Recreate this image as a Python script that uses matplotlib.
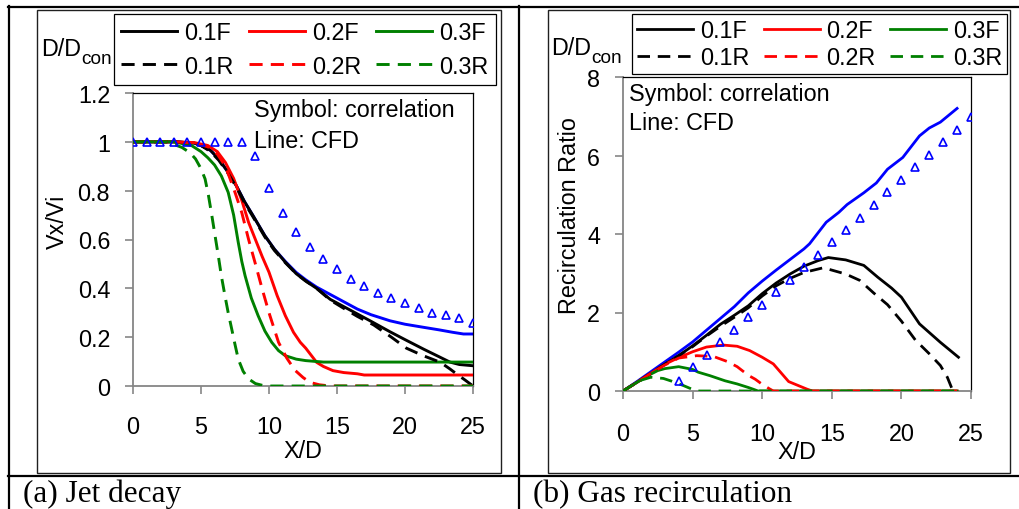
import matplotlib
matplotlib.use("Agg")
import matplotlib.pyplot as plt
from matplotlib.lines import Line2D
from matplotlib.patches import Rectangle

W, H = 1019, 510
SANS = "Liberation Sans"
SERIF = "Liberation Serif"
FS = 16.8
GREY = "#868686"
BLUE, RED, GREEN = "#0000FF", "#FF0000", "#008000"

# ---- (a) jet decay: Vx/Vi against X/D ----
a_corr_x = list(range(26))
a_corr_y = [1, 1, 1, 1, 1, 1, 1, 1, 1, 0.94, 0.81, 0.71, 0.63, 0.57, 0.52,
            0.48, 0.44, 0.41, 0.38, 0.36, 0.34, 0.32, 0.30, 0.29, 0.28, 0.26]

a_cfd_x = [0, 3, 4.5, 5.0, 5.7, 6.3, 7.0, 7.6, 8.2, 8.8, 9.7, 10.4, 11.2, 12.0, 12.7,
           13.5, 14.5, 15.5, 16.5, 17.5, 18.9, 20, 21.4, 22.5, 23.5, 24.3, 25]
a_cfd_y = [1, 1, 0.995, 0.985, 0.965, 0.93, 0.875, 0.82, 0.755, 0.70, 0.615, 0.56,
           0.51, 0.465, 0.435, 0.405, 0.375, 0.345, 0.315, 0.292, 0.267, 0.253,
           0.24, 0.23, 0.22, 0.213, 0.213]

a_01f_x = [0, 3, 4.5, 5.0, 5.7, 6.3, 7.0, 7.6, 8.2, 8.8, 9.7, 10.4, 11.2, 12.0, 12.7,
           13.5, 14.5, 15.5, 16.5, 17.5, 18.9, 20, 21.4, 22.5, 23.3, 24, 25]
a_01f_y = [1, 1, 0.995, 0.985, 0.965, 0.93, 0.875, 0.82, 0.755, 0.70, 0.615, 0.56,
           0.507, 0.46, 0.43, 0.40, 0.355, 0.325, 0.295, 0.265, 0.222, 0.19,
           0.15, 0.12, 0.098, 0.088, 0.083]

a_01r_x = [0, 3, 4.5, 5.0, 5.7, 6.3, 7.0, 7.6, 8.2, 8.8, 9.7, 10.4, 11.2, 12.0, 12.7,
           13.5, 14.5, 15.5, 16.5, 17.7, 19, 20.1, 21.3, 22.6, 23.3, 23.8, 24.4, 25]
a_01r_y = [1, 1, 0.995, 0.985, 0.96, 0.925, 0.87, 0.815, 0.75, 0.695, 0.61, 0.555,
           0.505, 0.46, 0.43, 0.40, 0.352, 0.318, 0.285, 0.25, 0.2, 0.155, 0.125,
           0.097, 0.07, 0.049, 0.025, 0.0]

a_02f_x = [0, 3, 4.5, 5.5, 6.2, 6.8, 7.4, 8.0, 8.5, 9.0, 9.5, 10.0, 10.6, 11.2, 11.8,
           12.3, 12.7, 13.5, 14.0, 14.7, 15.5, 16.5, 17.0, 25]
a_02f_y = [1, 1, 0.997, 0.985, 0.96, 0.915, 0.85, 0.76, 0.67, 0.6, 0.53, 0.466, 0.37,
           0.288, 0.22, 0.179, 0.155, 0.097, 0.08, 0.063, 0.055, 0.05, 0.045, 0.045]

a_02r_x = [0, 3, 4.5, 5.5, 6.2, 6.8, 7.5, 8.0, 8.5, 9.0, 9.5, 10.0, 10.7, 11.3, 11.9,
           12.5, 13.0, 13.7, 14.5, 25]
a_02r_y = [1, 1, 0.995, 0.98, 0.95, 0.9, 0.793, 0.71, 0.6, 0.5, 0.397, 0.3, 0.179,
           0.115, 0.065, 0.035, 0.015, 0.005, 0.0, 0.0]

a_03f_x = [0, 3, 4.3, 5.0, 5.5, 6.0, 6.5, 7.0, 7.4, 7.74, 8.0, 8.24, 8.7, 9.2, 9.7,
           10.2, 10.7, 11.2, 12.0, 12.7, 14.0, 25]
a_03f_y = [1, 1, 0.985, 0.96, 0.935, 0.905, 0.86, 0.793, 0.7, 0.588, 0.51, 0.452,
           0.36, 0.288, 0.225, 0.179, 0.145, 0.124, 0.11, 0.104, 0.098, 0.098]

a_03r_x = [0, 2.5, 3.6, 4.2, 4.6, 5.0, 5.3, 5.55, 5.8, 6.05, 6.27, 6.5, 6.76, 7.0,
           7.26, 7.5, 7.74, 8.1, 8.5, 9.0, 9.7, 25]
a_03r_y = [1, 1, 0.977, 0.955, 0.93, 0.89, 0.848, 0.78, 0.697, 0.61, 0.534, 0.45,
           0.37, 0.3, 0.233, 0.17, 0.11, 0.06, 0.029, 0.01, 0.0, 0.0]

# ---- (b) gas recirculation: recirculation ratio against X/D ----
b_corr_x = list(range(4, 26))
b_corr_y = [0.26, 0.60, 0.92, 1.24, 1.56, 1.88, 2.19, 2.51, 2.83, 3.15, 3.47,
            3.79, 4.11, 4.42, 4.75, 5.06, 5.38, 5.70, 6.02, 6.34, 6.66, 6.97]

b_cfd_x = [0, 1, 2, 3, 4, 5, 6, 7, 8, 9, 10, 11, 12, 13, 13.4, 14.6, 15.5, 16.1,
           17.3, 18.2, 19, 20.1, 21.3, 22, 22.8, 24]
b_cfd_y = [0, 0.24, 0.49, 0.74, 0.99, 1.25, 1.55, 1.85, 2.15, 2.5, 2.8, 3.08, 3.35,
           3.62, 3.75, 4.3, 4.55, 4.75, 5.05, 5.3, 5.65, 5.95, 6.5, 6.7, 6.85, 7.2]

b_01f_x = [0, 1, 2, 3, 4, 5, 6, 7, 8, 9, 10, 11, 12, 13, 14, 14.75, 16, 17.3, 18.3,
           19.3, 20, 21.3, 22.8, 24.1]
b_01f_y = [0, 0.22, 0.45, 0.68, 0.9, 1.15, 1.42, 1.7, 1.93, 2.17, 2.48, 2.75, 2.98,
           3.18, 3.32, 3.4, 3.34, 3.2, 2.9, 2.62, 2.39, 1.71, 1.24, 0.86]

b_01r_x = [0, 1, 2, 3, 4, 5, 6, 7, 8, 9, 10, 11, 12, 13, 14.4, 16, 17, 18, 19, 20,
           21, 22, 22.8, 23.3, 23.7, 24]
b_01r_y = [0, 0.22, 0.45, 0.68, 0.9, 1.13, 1.4, 1.65, 1.88, 2.12, 2.42, 2.68, 2.87,
           3.02, 3.14, 2.98, 2.82, 2.5, 2.2, 1.78, 1.3, 0.95, 0.65, 0.35, 0.0, 0.0]

b_02f_x = [0, 1, 2, 3, 4, 5, 6, 7.2, 8.2, 9.1, 10, 10.8, 11.9, 13.2, 13.6, 24]
b_02f_y = [0, 0.22, 0.45, 0.68, 0.85, 1.0, 1.12, 1.17, 1.14, 1.03, 0.86, 0.69,
           0.24, 0.05, 0, 0]

b_02r_x = [0, 1, 2, 3, 4, 5.3, 6.5, 7.5, 8.2, 9, 9.5, 10, 10.5, 10.8, 24]
b_02r_y = [0, 0.22, 0.45, 0.66, 0.84, 0.9, 0.88, 0.75, 0.62, 0.4, 0.3, 0.17, 0.06,
           0, 0]

b_03f_x = [0, 1, 2, 2.5, 3, 4, 5, 5.4, 6.25, 7.33, 8.2, 9, 9.4, 9.7, 24]
b_03f_y = [0, 0.22, 0.43, 0.52, 0.57, 0.62, 0.55, 0.48, 0.39, 0.26, 0.18, 0.09,
           0.04, 0, 0]

b_03r_x = [0, 1, 1.34, 2, 2.9, 3.5, 4.33, 5.2, 5.5, 24]
b_03r_y = [0, 0.22, 0.28, 0.35, 0.32, 0.25, 0.14, 0.01, 0, 0]

labels = ["0.1F", "0.2F", "0.3F", "0.1R", "0.2R", "0.3R"]
colors = ["black", RED, GREEN, "black", RED, GREEN]
DASH = (0, (4.5, 2.8))
styles = ["-", "-", "-", DASH, DASH, DASH]
# legend reads row by row: F series on top, R series below
legend_order = [0, 3, 1, 4, 2, 5]


def fx(px):
    return px / W


def fy(py):
    return 1 - py / H


def box(px0, py0, px1, py1):
    return [fx(px0), fy(py1), fx(px1) - fx(px0), fy(py0) - fy(py1)]


fig = plt.figure(figsize=(W / 100, H / 100), dpi=100, facecolor="white")

# table rules
for xs, ys in [([8, 1019], [7.5, 7.5]), ([8.5, 8.5], [7, 510]),
               ([519, 519], [7, 510]), ([8, 1019], [477, 477])]:
    fig.add_artist(Line2D([fx(x) for x in xs], [fy(y) for y in ys], color="black",
                          lw=1.6, transform=fig.transFigure))

# chart-area frames
for x0, x1 in [(37, 501), (548, 1010)]:
    fig.add_artist(Rectangle((fx(x0), fy(474)), fx(x1) - fx(x0), fy(11) - fy(474),
                             fill=False, edgecolor="#202020", lw=1.0,
                             transform=fig.transFigure, zorder=-2))


def style_axes(ax, ylim, yticks, ylabels, xpad):
    ax.set_xlim(0, 25)
    ax.set_ylim(*ylim)
    ax.set_xticks(range(0, 26, 5))
    ax.set_xticklabels([str(v) for v in range(0, 26, 5)])
    ax.set_yticks(yticks)
    ax.set_yticklabels(ylabels)
    for s in ("left", "bottom"):
        ax.spines[s].set_color(GREY)
        ax.spines[s].set_linewidth(1.3)
    for s in ("top", "right"):
        ax.spines[s].set_color("black")
        ax.spines[s].set_linewidth(0.9)
    ax.tick_params(axis="x", direction="out", length=6, width=1.2, color=GREY,
                   pad=xpad, labelsize=FS)
    ax.tick_params(axis="y", direction="out", length=6, width=1.2, color=GREY,
                   pad=10.5, labelsize=FS)
    for t in ax.get_xticklabels() + ax.get_yticklabels():
        t.set_family(SANS)


def draw_series(ax, series, cfd, corr, lw):
    ax.plot(*cfd, color=BLUE, lw=lw, zorder=2)
    handles = []
    for (x, y), lab, c, ls in zip(series, labels, colors, styles):
        h, = ax.plot(x, y, color=c, ls=ls, lw=lw, label=lab, zorder=3)
        handles.append(h)
    ax.plot(*corr, ls="none", marker="^", ms=5.5, mfc="none", mec=BLUE, mew=1.2,
            zorder=4)
    return [handles[i] for i in legend_order]


def add_legend(ax, handles, x0, colsp, bpad, lspace):
    leg = ax.legend(handles=handles, ncol=3, loc="upper left",
                    bbox_to_anchor=(fx(x0), fy(15)), bbox_transform=fig.transFigure,
                    borderaxespad=0, prop={"family": SANS, "size": FS},
                    handlelength=2.4, handletextpad=0.3, columnspacing=colsp,
                    borderpad=bpad, labelspacing=lspace, fancybox=False,
                    framealpha=1, edgecolor="black")
    leg.get_frame().set_linewidth(0.9)
    return leg


# ---- panel (a) ----
ax1 = fig.add_axes(box(133, 94, 473, 387))
h1 = draw_series(ax1,
                 [(a_01f_x, a_01f_y), (a_02f_x, a_02f_y), (a_03f_x, a_03f_y),
                  (a_01r_x, a_01r_y), (a_02r_x, a_02r_y), (a_03r_x, a_03r_y)],
                 (a_cfd_x, a_cfd_y), (a_corr_x, a_corr_y), 2.1)
style_axes(ax1, (0, 1.2), [0, 0.2, 0.4, 0.6, 0.8, 1.0, 1.2],
           ["0", "0.2", "0.4", "0.6", "0.8", "1", "1.2"], 15)
add_legend(ax1, h1, 114, 0.66, 0.3, 0.45)

# ---- panel (b) ----
ax2 = fig.add_axes(box(623, 78, 971, 392))
h2 = draw_series(ax2,
                 [(b_01f_x, b_01f_y), (b_02f_x, b_02f_y), (b_03f_x, b_03f_y),
                  (b_01r_x, b_01r_y), (b_02r_x, b_02r_y), (b_03r_x, b_03r_y)],
                 (b_cfd_x, b_cfd_y), (b_corr_x, b_corr_y), 2.0)
style_axes(ax2, (0, 8), [0, 2, 4, 6, 8], ["0", "2", "4", "6", "8"], 16)
add_legend(ax2, h2, 632, 0.62, 0.2, 0.2)

# axis titles and notes
txt = dict(family=SANS, size=FS)
fig.text(fx(57), fy(222), "Vx/Vi", rotation=90, ha="center", va="center", **txt)
fig.text(fx(569), fy(216), "Recirculation Ratio", rotation=90, ha="center",
         va="center", **txt)
fig.text(fx(303), fy(452), "X/D", ha="center", va="center", **txt)
fig.text(fx(797), fy(453), "X/D", ha="center", va="center", **txt)

fig.text(fx(254), fy(110), "Symbol: correlation", ha="left", va="center", **txt)
fig.text(fx(254), fy(142), "Line: CFD", ha="left", va="center", **txt)
fig.text(fx(629), fy(95), "Symbol: correlation", ha="left", va="center", **txt)
fig.text(fx(629), fy(123), "Line: CFD", ha="left", va="center", **txt)

for x0, base in [(41, 56), (551, 55)]:
    fig.text(fx(x0), fy(base), "D/D", ha="left", va="baseline", zorder=-1, **txt)
    fig.text(fx(x0 + 40), fy(base + 8), "con", ha="left", va="baseline", zorder=-1,
             family=SANS, size=13.7)

fig.text(fx(23), fy(502), "(a) Jet decay", ha="left", va="baseline",
         family=SERIF, size=22.5)
fig.text(fx(533), fy(502), "(b) Gas recirculation", ha="left", va="baseline",
         family=SERIF, size=22.5)

fig.savefig("out.png", dpi=100, facecolor="white")
